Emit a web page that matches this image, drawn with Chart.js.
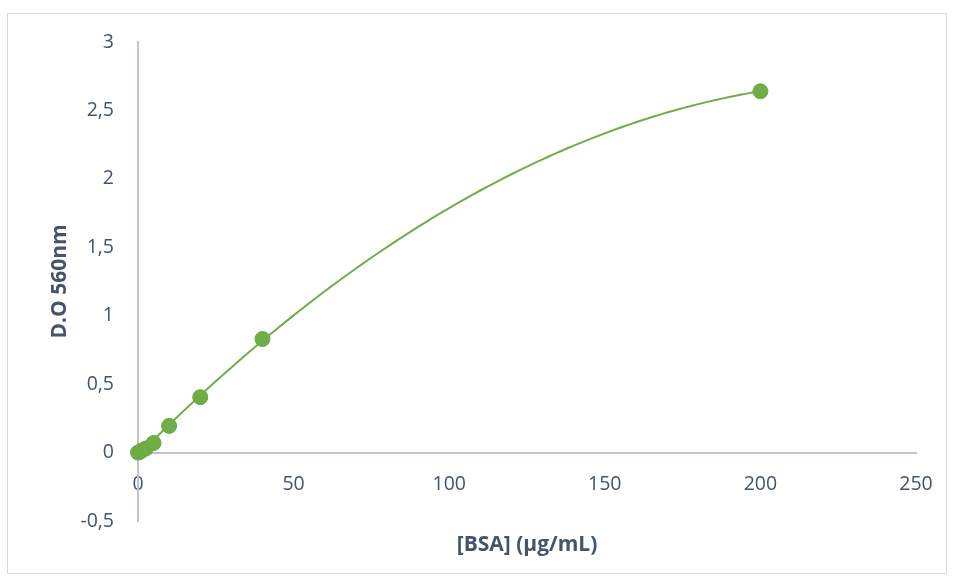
<!DOCTYPE html>
<html>
<head>
<meta charset="utf-8">
<script src="https://cdn.jsdelivr.net/npm/chart.js@4.4.0/dist/chart.umd.min.js"></script>
<style>
  html, body { margin: 0; padding: 0; background: #ffffff; }
  #wrap { position: relative; width: 955px; height: 581px; }
  #frame { position: absolute; left: 7px; top: 13px; width: 940px; height: 561px; border: 1px solid #d9d9d9; box-sizing: border-box; }
  canvas { position: absolute; left: 0; top: 0; }
</style>
</head>
<body>
<div id="wrap">
  <div id="frame"></div>
  <canvas id="c" width="955" height="581"></canvas>
</div>
<script>
// BSA standard curve: concentration (µg/mL) vs absorbance at 560 nm
const bsaConc = [0, 0.625, 1.25, 2.5, 5, 10, 20, 40, 200];
const absorbance = [0, 0.005, 0.015, 0.03, 0.07, 0.195, 0.405, 0.83, 2.64];

const xTicks = [0, 50, 100, 150, 200, 250];
const yTickLabels = ['-0,5', '0', '0,5', '1', '1,5', '2', '2,5', '3'];
const yTickValues = [-0.5, 0, 0.5, 1, 1.5, 2, 2.5, 3];

const green = '#70ad47';
const textColor = '#44546a';
const axisColor = '#bcc4d1';

// Second-order polynomial trendline (least squares) through the measured points
function quadFit(xs, ys) {
  let s = [0, 0, 0, 0, 0], t = [0, 0, 0];
  for (let i = 0; i < xs.length; i++) {
    let p = 1;
    for (let k = 0; k < 5; k++) { s[k] += p; if (k < 3) t[k] += p * ys[i]; p *= xs[i]; }
  }
  const A = [[s[0], s[1], s[2], t[0]], [s[1], s[2], s[3], t[1]], [s[2], s[3], s[4], t[2]]];
  for (let i = 0; i < 3; i++) {
    for (let j = i + 1; j < 3; j++) {
      const f = A[j][i] / A[i][i];
      for (let k = i; k < 4; k++) A[j][k] -= f * A[i][k];
    }
  }
  const c = [0, 0, 0];
  for (let i = 2; i >= 0; i--) {
    let v = A[i][3];
    for (let k = i + 1; k < 3; k++) v -= A[i][k] * c[k];
    c[i] = v / A[i][i];
  }
  return c;
}
const coef = quadFit(bsaConc, absorbance);
const xMaxData = Math.max(...bsaConc);
const trend = [];
for (let i = 0; i <= 100; i++) {
  const x = xMaxData * i / 100;
  trend.push({ x: x, y: coef[0] + coef[1] * x + coef[2] * x * x });
}

const points = bsaConc.map((x, i) => ({ x: x, y: absorbance[i] }));

new Chart(document.getElementById('c'), {
  type: 'scatter',
  data: {
    datasets: [
      {
        label: 'Polinómica',
        data: trend,
        showLine: true,
        borderColor: green,
        borderWidth: 2,
        pointRadius: 0,
        fill: false,
        clip: false,
        order: 2
      },
      {
        label: 'D.O 560nm',
        data: points,
        backgroundColor: green,
        borderColor: '#6aa842',
        borderWidth: 1,
        pointRadius: 7.5,
        clip: false,
        order: 1
      }
    ]
  },
  options: {
    responsive: false,
    animation: false,
    layout: { padding: { left: 20, right: 39, top: 42, bottom: 60 } },
    plugins: { legend: { display: false }, tooltip: { enabled: false } },
    scales: {
      x: {
        type: 'linear',
        position: { y: 0 },
        min: 0,
        max: 250,
        afterBuildTicks: (s) => { s.ticks = xTicks.map(v => ({ value: v })); },
        ticks: { color: textColor, font: { family: 'Open Sans', size: 19.5 }, padding: 20, maxRotation: 0 },
        grid: { display: false, drawTicks: false },
        border: { display: true, color: axisColor, width: 2 },
        title: {
          display: true,
          text: '[BSA] (µg/mL)',
          color: textColor,
          font: { family: 'Open Sans', size: 21, weight: 'bold' },
          padding: { top: 16, bottom: 0 }
        }
      },
      y: {
        type: 'linear',
        position: 'left',
        min: -0.5,
        max: 3,
        afterBuildTicks: (s) => { s.ticks = yTickValues.map(v => ({ value: v })); },
        afterFit: (s) => { s.width = 118; },
        ticks: {
          color: textColor,
          font: { family: 'Open Sans', size: 19.5 },
          padding: 24,
          callback: (v) => { const i = yTickValues.indexOf(v); return i >= 0 ? yTickLabels[i] : ''; }
        },
        grid: { display: false, drawTicks: false },
        border: { display: true, color: axisColor, width: 2 },
        title: {
          display: true,
          text: 'D.O 560nm',
          color: textColor,
          font: { family: 'Open Sans', size: 21, weight: 'bold' },
          padding: { top: 27, bottom: 0 }
        }
      }
    }
  }
});
</script>
</body>
</html>
